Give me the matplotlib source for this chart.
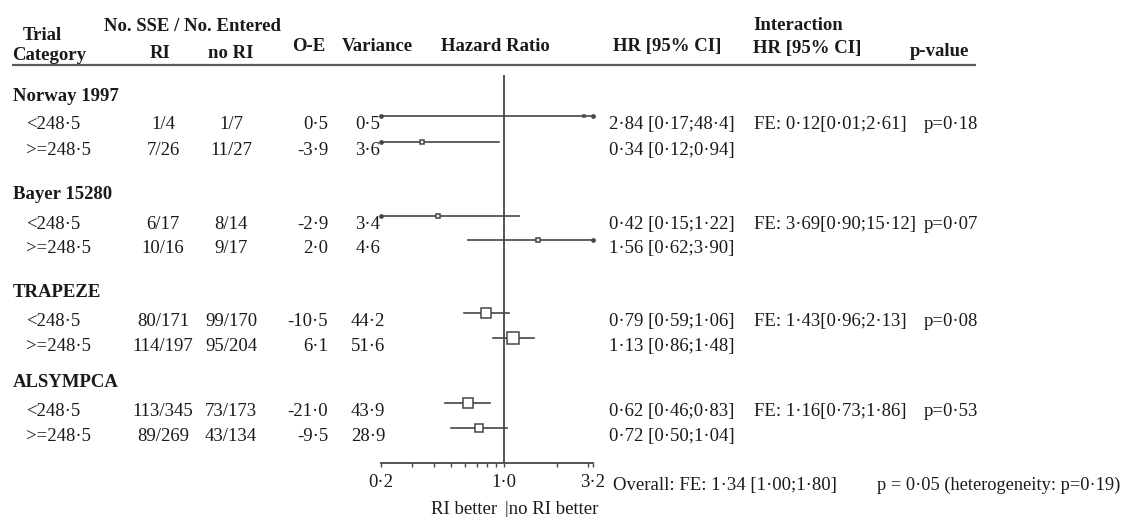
import numpy as np
import matplotlib.pyplot as plt

# Subgroup results (PSA split at 248.5) for each trial
trials = ["Norway 1997", "Bayer 15280", "TRAPEZE", "ALSYMPCA"]
subgroups = ["<248·5", ">=248·5"]
sse_ri = ["1/4", "7/26", "6/17", "10/16", "80/171", "114/197", "113/345", "89/269"]
sse_no_ri = ["1/7", "11/27", "8/14", "9/17", "99/170", "95/204", "73/173", "43/134"]
o_minus_e = [0.5, -3.9, -2.9, 2.0, -10.5, 6.1, -21.0, -9.5]
variance = [0.5, 3.6, 3.4, 4.6, 44.2, 51.6, 43.9, 28.9]
hr = [2.84, 0.34, 0.42, 1.56, 0.79, 1.13, 0.62, 0.72]
hr_lo = [0.17, 0.12, 0.15, 0.62, 0.59, 0.86, 0.46, 0.50]
hr_hi = [48.4, 0.94, 1.22, 3.90, 1.06, 1.48, 0.83, 1.04]

# Interaction (fixed effect) per trial
int_hr = [0.12, 3.69, 1.43, 1.16]
int_lo = [0.01, 0.90, 0.96, 0.73]
int_hi = [2.61, 15.12, 2.13, 1.86]
int_p = [0.18, 0.07, 0.08, 0.53]

overall_hr, overall_lo, overall_hi = 1.34, 1.00, 1.80
overall_p, het_p = 0.05, 0.19

# layout in pixels (from top-left)
W, H = 1124, 517
group_y = [101, 199, 297, 387]        # baselines of trial names
row_y = [116, 142, 216, 240, 313, 338, 403, 428]   # CI line positions
x_lo_px, x_hi_px, top_px, axis_px = 381, 593, 75, 463

TXT = "#1a1a1a"
LN = "#454545"

plt.rcParams['font.family'] = ['Liberation Serif', 'DejaVu Serif']
plt.rcParams['font.size'] = 13.5


def dot(v, nd=2):
    return f"{v:.{nd}f}".replace(".", "·")


def ci(v):
    s = f"{v:.2f}" if v < 10 else f"{v:g}"
    return s.replace(".", "·")


fig = plt.figure(figsize=(W / 100, H / 100), dpi=100)
page = fig.add_axes([0, 0, 1, 1])
page.set_xlim(0, W)
page.set_ylim(H, 0)
page.axis('off')

ax = fig.add_axes([x_lo_px / W, 1 - axis_px / H,
                   (x_hi_px - x_lo_px) / W, (axis_px - top_px) / H])
ax.patch.set_alpha(0)
ax.set_xscale('log')
ax.set_xlim(0.2, 3.2)
ax.set_ylim(axis_px, top_px)

# column headers
hdr = dict(fontweight='bold', color=TXT, va='baseline')
page.text(42, 40, "Trial", ha='center', **hdr)
page.text(12, 60, "Category", ha='left', **hdr)
page.text(193, 31, "No. SSE / No. Entered", ha='center', **hdr)
page.text(160, 58, "RI", ha='center', **hdr)
page.text(231, 58, "no RI", ha='center', **hdr)
page.text(309, 51, "O-E", ha='center', **hdr)
page.text(377, 51, "Variance", ha='center', **hdr)
page.text(495, 51, "Hazard Ratio", ha='center', **hdr)
page.text(667, 51, "HR [95% CI]", ha='center', **hdr)
page.text(753, 30, "Interaction", ha='left', **hdr)
page.text(753, 53, "HR [95% CI]", ha='left', **hdr)
page.text(910, 56, "p-value", ha='left', **hdr)
page.plot([12, 976], [65, 65], color="#5a5a5a", lw=1.6, solid_capstyle='butt')

body = dict(color=TXT, va='baseline')
for g, name in enumerate(trials):
    page.text(13, group_y[g], name, ha='left', fontweight='bold', **body)
    for k in range(2):
        i = 2 * g + k
        yb = row_y[i] + 13
        page.text(26, yb, subgroups[k], ha='left', **body)
        page.text(163, yb, sse_ri[i], ha='center', **body)
        page.text(231, yb, sse_no_ri[i], ha='center', **body)
        page.text(328, yb, dot(o_minus_e[i], 1), ha='right', **body)
        page.text(368, yb, dot(variance[i], 1), ha='center', **body)
        page.text(609, yb, f"{dot(hr[i])} [{ci(hr_lo[i])};{ci(hr_hi[i])}]",
                  ha='left', **body)
    yb = row_y[2 * g] + 13
    page.text(754, yb, f"FE: {dot(int_hr[g])}[{ci(int_lo[g])};{ci(int_hi[g])}]",
              ha='left', **body)
    page.text(924, yb, f"p={dot(int_p[g])}", ha='left', **body)

# forest plot: CI lines clipped to the axis range, boxes sized by variance
xmin, xmax = ax.get_xlim()
for i, y in enumerate(row_y):
    lo = max(hr_lo[i], xmin)
    hi = min(hr_hi[i], xmax)
    ax.plot([lo, hi], [y, y], color=LN, lw=1.2, clip_on=False, zorder=2)
    if hr_lo[i] < xmin:
        ax.plot(lo, y, marker='o', ms=2.4, color=LN, clip_on=False, zorder=3)
    if hr_hi[i] > xmax:
        ax.plot(hi, y, marker='o', ms=2.4, color=LN, clip_on=False, zorder=3)
    ax.plot(hr[i], y, marker='s', ms=1.05 * np.sqrt(variance[i]) + 0.8,
            mfc='white', mec=LN, mew=1.1, clip_on=False, zorder=4)

ax.axvline(1.0, color=LN, lw=1.3, zorder=1)

for side in ['top', 'right', 'left']:
    ax.spines[side].set_visible(False)
ax.spines['bottom'].set_color(LN)
ax.spines['bottom'].set_linewidth(1.3)
ax.set_yticks([])
ax.set_xticks([0.2, 1.0, 3.2])
ax.set_xticklabels(["0·2", "1·0", "3·2"])
ax.set_xticks([0.3, 0.4, 0.5, 0.6, 0.7, 0.8, 0.9, 2, 3], minor=True)
ax.xaxis.set_minor_formatter(plt.NullFormatter())
ax.tick_params(axis='x', which='both', direction='out', length=3, width=1,
               color=LN, labelcolor=TXT, labelsize=13.5, pad=5)

page.text(497, 514, "RI better", ha='right', **body)
page.text(505, 514, "|no RI better", ha='left', **body)

page.text(613, 490, f"Overall: FE: {dot(overall_hr)} [{ci(overall_lo)};{ci(overall_hi)}]",
          ha='left', **body)
page.text(877, 490, f"p = {dot(overall_p)} (heterogeneity: p={dot(het_p)})",
          ha='left', fontsize=13.2, **body)

fig.savefig("out.png", dpi=100, facecolor='white')
